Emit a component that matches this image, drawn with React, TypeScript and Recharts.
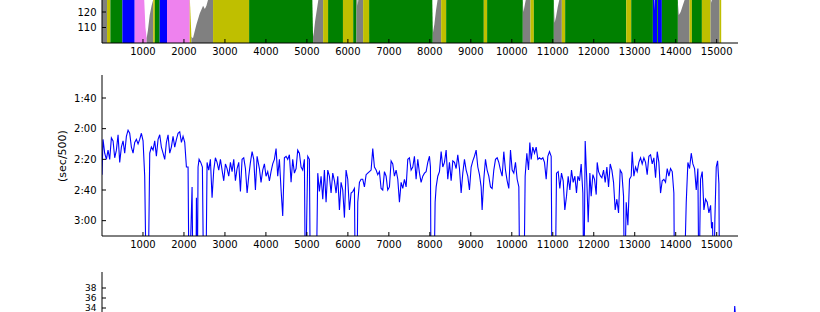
import { ComposedChart, LineChart, Line, Area, XAxis, YAxis } from 'recharts';

// distance along the piece (m)
const xTicks = [1000, 2000, 3000, 4000, 5000, 6000, 7000, 8000, 9000, 10000, 11000, 12000, 13000, 14000, 15000];

// top panel: heart rate, filled by zone
const hrDist = [
  0, 123, 204, 497, 798, 1000, 1030, 1060, 1090, 1120, 1165, 1210, 1250, 1290, 1408, 1587,
  2141, 2170, 2182, 2220, 2247, 2304, 2385, 2467, 2510, 2548, 2589, 2650, 2710, 3590,
  5120, 5150, 5170, 5200, 5240, 5280, 5320, 5396, 5517, 5880, 6130, 6210, 6240, 6270, 6372, 6519,
  8050, 8072, 8110, 8150, 8190, 8230, 8276, 8398, 9317, 9398,
  10255, 10269, 10285, 10320, 10350, 10456, 10538,
  11010, 11026, 11045, 11080, 11120, 11160, 11221, 11302, 12792, 12914,
  13443, 13484, 13495, 13548, 13568, 13662,
  14040, 14053, 14075, 14120, 14170, 14220, 14338, 14395, 14639, 14850, 14870, 14900, 15070, 15110,
];
const hrBpm = [
  150, 150, 150, 150, 150, 145, 128, 110, 103, 108, 118, 124, 128, 135, 150, 150,
  130, 112, 104, 103, 106, 112, 119, 124, 122, 124, 128, 132, 140, 150,
  145, 104, 107, 114, 121, 128, 132, 140, 150, 150, 150, 140, 124, 132, 145, 150,
  145, 106, 112, 121, 128, 132, 138, 150, 150, 150,
  140, 126, 120, 125, 129, 140, 150,
  140, 126, 113, 117, 123, 128, 136, 150, 150, 150,
  150, 121, 150, 150, 150, 150,
  140, 126, 118, 120, 124, 128, 138, 150, 150, 140, 126, 129, 140, 140,
];
const zoneEdges = [
  0, 123, 204, 497, 798, 1090, 1250, 1290, 1408, 1587, 2141, 2182, 2710, 3590, 5150, 5396,
  5517, 5880, 6130, 6210, 6372, 6519, 8072, 8276, 8398, 9317, 9398, 10269, 10456, 10538,
  11026, 11221, 11302, 12792, 12914, 13443, 13548, 13568, 13662, 14053, 14338, 14395, 14639,
  14850, 15070, 15110,
];
const zoneColors = [
  'gray', 'y', 'g', 'b', 'violet', 'gray', 'y', 'g', 'b', 'violet', 'y', 'gray', 'y', 'g', 'gray',
  'y', 'g', 'y', 'g', 'gray', 'y', 'g', 'gray', 'y', 'g', 'y', 'g', 'gray', 'y',
  'g', 'gray', 'y', 'g', 'y', 'g', 'b', 'g', 'b', 'g', 'gray', 'y', 'g', 'y',
  'gray', 'y',
];
const hrTicks = [110, 120];

// middle panel: pace (sec/500m)
const paceDist = [
  0, 25, 66, 107, 147, 188, 229, 270, 310, 351,
  392, 432, 473, 514, 554, 595, 636, 676, 717, 758,
  798, 839, 880, 920, 961, 1002, 1042, 1083, 1124, 1165,
  1205, 1246, 1287, 1327, 1368, 1409, 1449, 1490, 1531, 1571,
  1612, 1653, 1693, 1734, 1775, 1816, 1856, 1897, 1938, 1978,
  2019, 2060, 2100, 2125, 2198, 2222, 2290, 2304, 2325, 2344,
  2369, 2410, 2450, 2483, 2532, 2564, 2605, 2645, 2686, 2727,
  2767, 2808, 2849, 2890, 2930, 2971, 3012, 3052, 3093, 3134,
  3174, 3215, 3256, 3296, 3337, 3378, 3418, 3459, 3500, 3541,
  3581, 3622, 3663, 3703, 3744, 3785, 3841, 3881, 3922, 3963,
  4003, 4044, 4085, 4125, 4166, 4207, 4248, 4288, 4329, 4370,
  4410, 4451, 4492, 4532, 4573, 4614, 4654, 4695, 4736, 4776,
  4817, 4858, 4898, 4939, 4964, 5021, 5061, 5086, 5224, 5265,
  5305, 5346, 5387, 5427, 5468, 5509, 5549, 5590, 5631, 5672,
  5712, 5753, 5794, 5834, 5875, 5916, 5956, 5997, 6038, 6078,
  6119, 6160, 6184, 6217, 6241, 6282, 6322, 6363, 6404, 6445,
  6485, 6526, 6567, 6607, 6648, 6689, 6729, 6770, 6811, 6851,
  6892, 6933, 6973, 7014, 7055, 7095, 7136, 7177, 7218, 7258,
  7299, 7340, 7380, 7421, 7462, 7502, 7543, 7584, 7624, 7665,
  7706, 7747, 7787, 7828, 7869, 7909, 7950, 7991, 8015, 8031,
  8097, 8129, 8154, 8194, 8235, 8276, 8316, 8357, 8398, 8438,
  8479, 8520, 8560, 8601, 8642, 8682, 8723, 8764, 8804, 8845,
  8886, 8926, 8967, 9008, 9049, 9089, 9130, 9171, 9211, 9252,
  9276, 9317, 9358, 9398, 9439, 9480, 9520, 9561, 9602, 9643,
  9683, 9724, 9765, 9805, 9846, 9887, 9927, 9968, 10009, 10049,
  10090, 10131, 10172, 10196, 10294, 10326, 10367, 10408, 10440, 10473,
  10513, 10554, 10595, 10636, 10676, 10717, 10758, 10798, 10839, 10879,
  10920, 10961, 10985, 11058, 11091, 11132, 11172, 11213, 11254, 11294,
  11335, 11376, 11417, 11457, 11498, 11539, 11579, 11612, 11653, 11693,
  11734, 11758, 11791, 11832, 11864, 11905, 11937, 11978, 12019, 12060,
  12084, 12117, 12165, 12198, 12239, 12279, 12320, 12361, 12401, 12442,
  12483, 12523, 12564, 12605, 12645, 12686, 12727, 12751, 12792, 12833,
  12873, 12914, 12938, 12979, 13020, 13060, 13101, 13142, 13182, 13223,
  13264, 13304, 13345, 13386, 13427, 13467, 13508, 13549, 13589, 13630,
  13671, 13711, 13752, 13793, 13833, 13874, 13915, 13955, 13972, 14200,
  14257, 14297, 14338, 14379, 14419, 14460, 14501, 14541, 14566, 14606,
  14647, 14688, 14728, 14769, 14810, 14851, 14875, 14899, 14924, 14956,
  14989, 15022, 15054, 15070,
];
const paceSec = [
  150, 127, 136, 140, 134, 140, 126, 128, 139, 134,
  124, 142, 132, 128, 136, 125, 121, 123, 132, 136,
  129, 127, 130, 127, 123, 128, 151, 230, 230, 136,
  132, 134, 128, 138, 127, 124, 132, 136, 140, 129,
  124, 136, 132, 125, 132, 127, 123, 122, 129, 125,
  129, 145, 145, 230, 158, 230, 230, 165, 230, 145,
  140, 142, 145, 230, 230, 142, 147, 140, 165, 147,
  139, 142, 147, 140, 147, 154, 143, 146, 151, 142,
  148, 140, 154, 146, 142, 161, 140, 139, 146, 162,
  151, 142, 135, 140, 160, 138, 146, 155, 147, 143,
  151, 148, 154, 148, 143, 140, 133, 151, 140, 160,
  177, 139, 138, 140, 137, 155, 140, 149, 146, 134,
  136, 145, 147, 140, 230, 138, 140, 230, 230, 149,
  161, 151, 166, 147, 168, 147, 151, 162, 149, 154,
  162, 151, 173, 155, 160, 178, 147, 153, 173, 162,
  161, 159, 230, 230, 168, 155, 153, 153, 158, 150,
  149, 148, 147, 133, 145, 147, 150, 148, 159, 160,
  148, 151, 160, 158, 141, 143, 151, 147, 153, 168,
  155, 159, 153, 158, 140, 139, 147, 145, 138, 153,
  140, 149, 155, 151, 149, 148, 142, 138, 145, 230,
  230, 168, 158, 151, 148, 135, 145, 142, 134, 153,
  142, 154, 141, 142, 146, 137, 146, 162, 149, 140,
  147, 151, 160, 145, 141, 138, 134, 145, 150, 158,
  173, 153, 140, 147, 151, 158, 159, 147, 140, 139,
  142, 147, 151, 135, 147, 154, 159, 134, 147, 149,
  142, 153, 158, 230, 230, 151, 136, 147, 129, 140,
  132, 136, 132, 140, 139, 140, 139, 142, 153, 138,
  135, 138, 230, 230, 149, 148, 159, 149, 154, 173,
  164, 151, 160, 147, 155, 151, 162, 151, 154, 143,
  162, 230, 128, 155, 181, 149, 164, 150, 153, 163,
  142, 148, 151, 152, 147, 155, 145, 158, 143, 147,
  155, 173, 166, 175, 147, 149, 164, 230, 168, 183,
  153, 151, 135, 151, 145, 148, 142, 139, 143, 139,
  142, 150, 138, 137, 143, 139, 152, 135, 142, 162,
  154, 153, 155, 146, 151, 146, 148, 162, 230, 230,
  168, 142, 146, 136, 143, 146, 160, 146, 230, 153,
  148, 173, 166, 168, 175, 170, 185, 181, 230, 179,
  145, 141, 156, 230,
];
const paceTicks = [100, 120, 140, 160, 180];

// bottom panel: stroke rate, mostly below the visible window
const spmDist = [14900, 15200, 15400, 15440, 15480];
const spmVal = [28, 29, 27, 34.4, 30];
const spmTicks = [34, 36, 38];

const COLORS: Record<string, string> = {
  g: '#008000',
  y: '#bfbf00',
  b: '#0000ff',
  gray: '#808080',
  violet: '#ee82ee',
};

const FONT = 'DejaVu Sans';
const X_MAX = 15520;
const MARGIN = { top: 5, right: 82, bottom: 0, left: 0 };

const hrRows = hrDist.map((d, i) => {
  const row: Record<string, number | null> = { d };
  zoneColors.forEach((_, z) => {
    row[`z${z}`] = d >= zoneEdges[z] && d <= zoneEdges[z + 1] ? hrBpm[i] : null;
  });
  return row;
});
const paceRows = paceDist.map((d, i) => ({ d, pace: paceSec[i] }));
const spmRows = spmDist.map((d, i) => ({ d, spm: spmVal[i] }));

const fmtPace = (s: number) => `${Math.floor(s / 60)}:${String(s % 60).padStart(2, '0')}`;
const blank = () => '';

type FrameOpts = { fontSize?: number; reversed?: boolean; fmt?: (v: number) => string; xLabels?: boolean };

function frame(yDomain: number[], yTicks: number[], opts: FrameOpts = {}) {
  const tick = { fill: '#000', fontSize: opts.fontSize ?? 10, fontFamily: FONT };
  const common = { stroke: '#000', tickLine: { stroke: '#000' }, tickSize: -4, allowDataOverflow: true, interval: 0 as const };
  return [
    <XAxis key="xb" xAxisId="b" type="number" dataKey="d" domain={[0, X_MAX]} ticks={xTicks}
      orientation="bottom" height={30} tickMargin={8.5}
      tick={opts.xLabels === false ? false : tick} {...common} />,
    <XAxis key="xt" xAxisId="t" type="number" dataKey="d" domain={[0, X_MAX]} ticks={xTicks}
      orientation="top" height={0} tick={false} {...common} />,
    <YAxis key="yl" yAxisId="l" type="number" domain={yDomain} ticks={yTicks} reversed={opts.reversed}
      width={102} tickMargin={9.5} tick={tick} tickFormatter={opts.fmt} {...common} />,
    <YAxis key="yr" yAxisId="r" type="number" domain={yDomain} ticks={yTicks} reversed={opts.reversed}
      orientation="right" width={0} tickFormatter={blank} {...common} />,
  ];
}

export default function App() {
  return (
    <div style={{ position: 'absolute', left: 0, top: 0, width: 820, height: 312, overflow: 'hidden', background: '#fff' }}>
      <div style={{ position: 'absolute', left: 0, top: -117 }}>
        <ComposedChart width={820} height={190} data={hrRows} margin={MARGIN}>
          {zoneColors.map((c, z) => (
            <Area key={z} xAxisId="b" yAxisId="l" dataKey={`z${z}`} type="linear" baseValue={100}
              stroke="none" fill={COLORS[c]} fillOpacity={1} connectNulls={false}
              dot={false} activeDot={false} isAnimationActive={false} />
          ))}
          {frame([100, 200], hrTicks)}
        </ComposedChart>
      </div>

      <div style={{ position: 'absolute', left: 0, top: 70 }}>
        <LineChart width={820} height={196} data={paceRows} margin={MARGIN}>
          <Line xAxisId="b" yAxisId="l" dataKey="pace" type="linear" stroke="#0000ff" strokeWidth={1.1}
            dot={false} activeDot={false} isAnimationActive={false} />
          {frame([85, 190], paceTicks, { reversed: true, fmt: fmtPace })}
        </LineChart>
      </div>
      <div style={{
        position: 'absolute', left: 62, top: 156, transform: 'translate(-50%, -50%) rotate(-90deg)',
        fontFamily: FONT, fontSize: 11, whiteSpace: 'nowrap', color: '#000',
      }}>
        (sec/500)
      </div>

      <div style={{ position: 'absolute', left: 0, top: 267 }}>
        <LineChart width={820} height={196} data={spmRows} margin={MARGIN}>
          <Line xAxisId="b" yAxisId="l" dataKey="spm" type="linear" stroke="#0000ff" strokeWidth={1.1}
            dot={false} activeDot={false} isAnimationActive={false} />
          {frame([9, 41.2], spmTicks, { fontSize: 9, xLabels: false })}
        </LineChart>
      </div>
    </div>
  );
}
